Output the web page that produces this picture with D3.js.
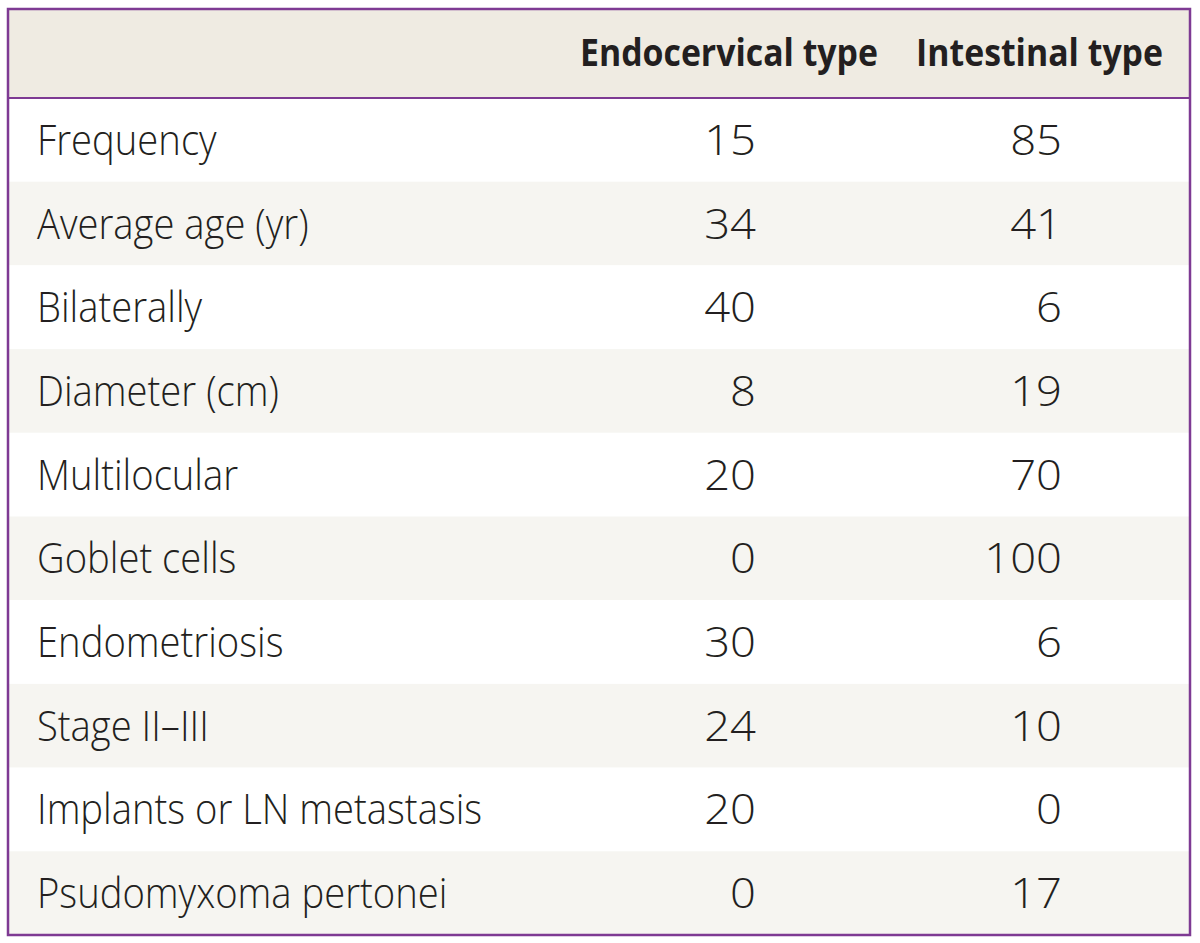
<!DOCTYPE html>
<html>
<head>
<meta charset="utf-8">
<script src="https://cdn.jsdelivr.net/npm/d3@7"></script>
<style>
  html, body { margin: 0; padding: 0; background: #ffffff; }
  svg { display: block; }
</style>
</head>
<body>
<svg id="chart" width="1200" height="943"></svg>
<script>
// ---- data ----
const columns = ["Endocervical type", "Intestinal type"];
const rowLabels = [
  "Frequency",
  "Average age (yr)",
  "Bilaterally",
  "Diameter (cm)",
  "Multilocular",
  "Goblet cells",
  "Endometriosis",
  "Stage II\u2013III",
  "Implants or LN metastasis",
  "Psudomyxoma pertonei"
];
const endocervical = [15, 34, 40, 8, 20, 0, 30, 24, 20, 0];
const intestinal   = [85, 41, 6, 19, 70, 100, 6, 10, 0, 17];

// ---- layout ----
const boxL = 8, boxR = 1190, boxT = 9, boxB = 935;
const headerBottom = 98;
const purple = "#7e3a93";
const ink = "#231f20";
const bodyFont = "'Open Sans', 'Noto Sans', sans-serif";
const labelScaleX = 0.91, numScaleX = 1.08, headScaleX = 0.89;

const svg = d3.select("#chart");

const y = d3.scaleBand()
  .domain(d3.range(rowLabels.length))
  .range([headerBottom, boxB])
  .padding(0);

// column right edges for numbers
const colX = d3.scaleOrdinal().domain([0, 1]).range([756, 1062]);
// header right edges
const headX = d3.scaleOrdinal().domain([0, 1]).range([878, 1163]);

// header background
svg.append("rect")
  .attr("x", boxL).attr("y", boxT)
  .attr("width", boxR - boxL).attr("height", headerBottom - boxT)
  .attr("fill", "#efebe2");

// row backgrounds
svg.selectAll("rect.row")
  .data(rowLabels)
  .join("rect")
  .attr("class", "row")
  .attr("x", boxL).attr("y", (d, i) => y(i))
  .attr("width", boxR - boxL).attr("height", y.bandwidth())
  .attr("fill", (d, i) => i % 2 === 0 ? "#ffffff" : "#f6f5f1");

// header line
svg.append("line")
  .attr("x1", boxL).attr("x2", boxR)
  .attr("y1", headerBottom).attr("y2", headerBottom)
  .attr("stroke", purple).attr("stroke-width", 2);

// outer border
svg.append("rect")
  .attr("x", boxL).attr("y", boxT)
  .attr("width", boxR - boxL).attr("height", boxB - boxT)
  .attr("fill", "none")
  .attr("stroke", purple).attr("stroke-width", 2.5);

// header text
svg.selectAll("text.head")
  .data(columns)
  .join("text")
  .attr("class", "head")
  .attr("transform", (d, i) => `translate(${headX(i)},66) scale(${headScaleX},1)`)
  .attr("text-anchor", "end")
  .attr("font-family", bodyFont)
  .attr("font-weight", "bold")
  .attr("font-size", 38)
  .attr("fill", ink)
  .text(d => d);

// row labels
svg.selectAll("text.label")
  .data(rowLabels)
  .join("text")
  .attr("class", "label")
  .attr("transform", (d, i) => `translate(37,${y(i) + y.bandwidth() / 2 + 15}) scale(${labelScaleX},1)`)
  .attr("font-family", bodyFont)
  .attr("font-weight", 300)
  .attr("font-size", 42)
  .attr("fill", ink)
  .text(d => d);

// values
[endocervical, intestinal].forEach((series, c) => {
  svg.selectAll(`text.val${c}`)
    .data(series)
    .join("text")
    .attr("class", `val${c}`)
    .attr("transform", (d, i) => `translate(${colX(c)},${y(i) + y.bandwidth() / 2 + 15}) scale(${numScaleX},1)`)
    .attr("text-anchor", "end")
    .attr("font-family", bodyFont)
    .attr("font-weight", 300)
    .attr("font-size", 42)
    .attr("fill", ink)
    .text(d => d);
});
</script>
</body>
</html>
